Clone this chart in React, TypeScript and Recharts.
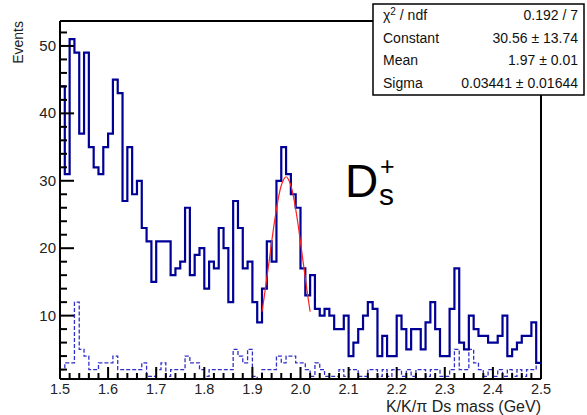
import React from 'react';
import { ComposedChart, Line, XAxis, YAxis, ReferenceLine } from 'recharts';

// ---- data ----
const binLow = 1.5;
const binWidth = 0.01;
const massHigh = 2.5;

const mainCounts = [
  44, 31, 51, 49, 37, 49, 35, 32, 31, 35,
  37, 45, 43, 27, 35, 28, 30, 23, 21, 15,
  21, 21, 21, 16, 17, 18, 26, 16, 19, 20,
  14, 18, 17, 23, 20, 12, 27, 23, 17, 18,
  12, 9, 14, 21, 18, 30, 35, 31, 28, 26,
  17, 13, 16, 11, 10, 11, 10, 8, 8, 10,
  4, 6, 8, 10, 12, 11, 4, 7, 4, 4,
  10, 8, 5, 8, 8, 5, 9, 12, 8, 4,
  4, 11, 17, 6, 5, 10, 8, 7, 7, 6,
  6, 7, 10, 4, 5, 6, 7, 7, 9, 3,
];

const sidebandCounts = [
  2, 3, 3, 12, 5, 4, 2, 2, 3, 3,
  3, 4, 2, 2, 2, 2, 2, 3, 1, 1,
  2, 3, 1, 2, 2, 2, 4, 3, 3, 2,
  1, 2, 2, 2, 2, 2, 5, 4, 3, 5,
  1, 0, 2, 2, 2, 4, 3, 4, 4, 3,
  3, 2, 1, 3, 2, 1, 1, 1, 2, 1,
  2, 2, 1, 1, 2, 2, 1, 2, 1, 2,
  2, 1, 2, 1, 2, 2, 1, 2, 2, 1,
  1, 2, 5, 2, 2, 5, 3, 2, 1, 2,
  1, 2, 1, 2, 1, 2, 1, 2, 2, 3,
];

const fitMass = [
  1.92, 1.925, 1.93, 1.935, 1.94, 1.945, 1.95, 1.955, 1.96, 1.965, 1.97,
  1.975, 1.98, 1.985, 1.99, 1.995, 2.0, 2.005, 2.01, 2.015, 2.02,
];
const fitValues = [
  10.6, 13.0, 15.6, 18.2, 20.9, 23.5, 25.8, 27.8, 29.3, 30.2, 30.6,
  30.2, 29.3, 27.8, 25.8, 23.5, 20.9, 18.2, 15.6, 13.0, 10.6,
];

const yDomain: [number, number] = [0.6, 53.7];
const yTickValues = [2, 4, 6, 8, 10, 12, 14, 16, 18, 20, 22, 24, 26, 28, 30, 32, 34, 36, 38, 40, 42, 44, 46, 48, 50, 52];
const xTickValues = Array.from({ length: 51 }, (_, i) => +(1.5 + i * 0.02).toFixed(2));

const statsLabels = ['χ2 / ndf', 'Constant', 'Mean', 'Sigma'];
const statsValues = ['0.192 / 7', '30.56 ± 13.74', '1.97 ± 0.01', '0.03441 ± 0.01644'];

const xTitle = 'K/K/π Ds mass (GeV)';
const yTitle = 'Events';

// ---- derived tables ----
const toHist = (counts: number[]) => {
  const rows = counts.map((v, i) => ({ x: +(binLow + i * binWidth).toFixed(2), y: v }));
  rows.push({ x: massHigh, y: counts[counts.length - 1] });
  return rows;
};
const mainData = toHist(mainCounts);
const sideData = toHist(sidebandCounts);
const fitData = fitMass.map((m, i) => ({ x: m, y: fitValues[i] }));

const FONT = '"Liberation Sans", Arial, Helvetica, sans-serif';

const XTick = (props: any) => {
  const { x, y, payload } = props;
  const v = payload.value as number;
  const major = Math.round(v * 100) % 10 === 0;
  return (
    <g>
      <line x1={x} x2={x} y1={y} y2={y - (major ? 12 : 6)} stroke="#000" strokeWidth={2} />
      {major && (
        <text x={x} y={y + 15} textAnchor="middle" fontFamily={FONT} fontSize={14.5} fill="#222">
          {v.toFixed(1)}
        </text>
      )}
    </g>
  );
};

const YTick = (props: any) => {
  const { x, y, payload } = props;
  const v = payload.value as number;
  const major = v % 10 === 0;
  return (
    <g>
      <line x1={x} x2={x + (major ? 14 : 7)} y1={y} y2={y} stroke="#000" strokeWidth={2} />
      {major && (
        <text x={x - 4} y={y + 5} textAnchor="end" fontFamily={FONT} fontSize={15} fill="#222">
          {v}
        </text>
      )}
    </g>
  );
};

export default function App() {
  return (
    <div style={{ position: 'absolute', left: 0, top: 0, width: 587, height: 415, background: '#fff' }}>
      <ComposedChart
        width={587}
        height={415}
        margin={{ top: 21, right: 46, bottom: 0, left: 0 }}
        style={{ background: '#fff' }}
      >
        <XAxis
          dataKey="x"
          type="number"
          domain={[binLow, massHigh]}
          allowDataOverflow
          ticks={xTickValues}
          interval={0}
          tickSize={0}
          tickMargin={0}
          tickLine={false}
          tick={XTick}
          axisLine={{ stroke: '#000', strokeWidth: 2 }}
          height={36}
        />
        <YAxis
          type="number"
          domain={yDomain}
          allowDataOverflow
          ticks={yTickValues}
          interval={0}
          tickSize={0}
          tickMargin={0}
          tickLine={false}
          tick={YTick}
          axisLine={{ stroke: '#000', strokeWidth: 2 }}
          width={60}
        />
        <ReferenceLine y={yDomain[1]} stroke="#000" strokeWidth={2} ifOverflow="visible" />
        <ReferenceLine x={massHigh} stroke="#000" strokeWidth={2} ifOverflow="visible" />
        <Line
          data={sideData}
          dataKey="y"
          type="stepAfter"
          stroke="#3030c8"
          strokeWidth={1.3}
          strokeDasharray="4 2"
          dot={false}
          isAnimationActive={false}
        />
        <Line
          data={mainData}
          dataKey="y"
          type="stepAfter"
          stroke="#000096"
          strokeWidth={2.2}
          dot={false}
          isAnimationActive={false}
        />
        <Line
          data={fitData}
          dataKey="y"
          type="monotone"
          stroke="#ff2020"
          strokeWidth={1.2}
          dot={false}
          isAnimationActive={false}
        />
      </ComposedChart>
      <svg
        width={587}
        height={415}
        style={{ position: 'absolute', left: 0, top: 0, pointerEvents: 'none' }}
      >
        <text
          transform="translate(23,21) rotate(-90)"
          textAnchor="end"
          fontFamily={FONT}
          fontSize={14}
          fill="#222"
        >
          {yTitle}
        </text>
        <text x={541} y={412} textAnchor="end" fontFamily={FONT} fontSize={16} fill="#222">
          {xTitle}
        </text>
        <text x={345} y={197} fontFamily={FONT} fontSize={46} fill="#000">D</text>
        <text x={380} y={175} fontFamily={FONT} fontSize={25} fill="#000">+</text>
        <text x={379} y={205} fontFamily={FONT} fontSize={30} fill="#000">s</text>
        <rect x={373} y={4} width={211} height={91} fill="#fff" stroke="#000" strokeWidth={1.5} />
        {statsLabels.map((lab, i) => (
          <g key={lab}>
            <text x={383} y={20 + i * 22.7} fontFamily={FONT} fontSize={14} fill="#111">
              {i === 0 ? (
                <>
                  χ<tspan dy={-5} fontSize={10}>2</tspan>
                  <tspan dy={5}> / ndf</tspan>
                </>
              ) : (
                lab
              )}
            </text>
            <text x={578} y={20 + i * 22.7} textAnchor="end" fontFamily={FONT} fontSize={14} fill="#111">
              {statsValues[i]}
            </text>
          </g>
        ))}
      </svg>
    </div>
  );
}
